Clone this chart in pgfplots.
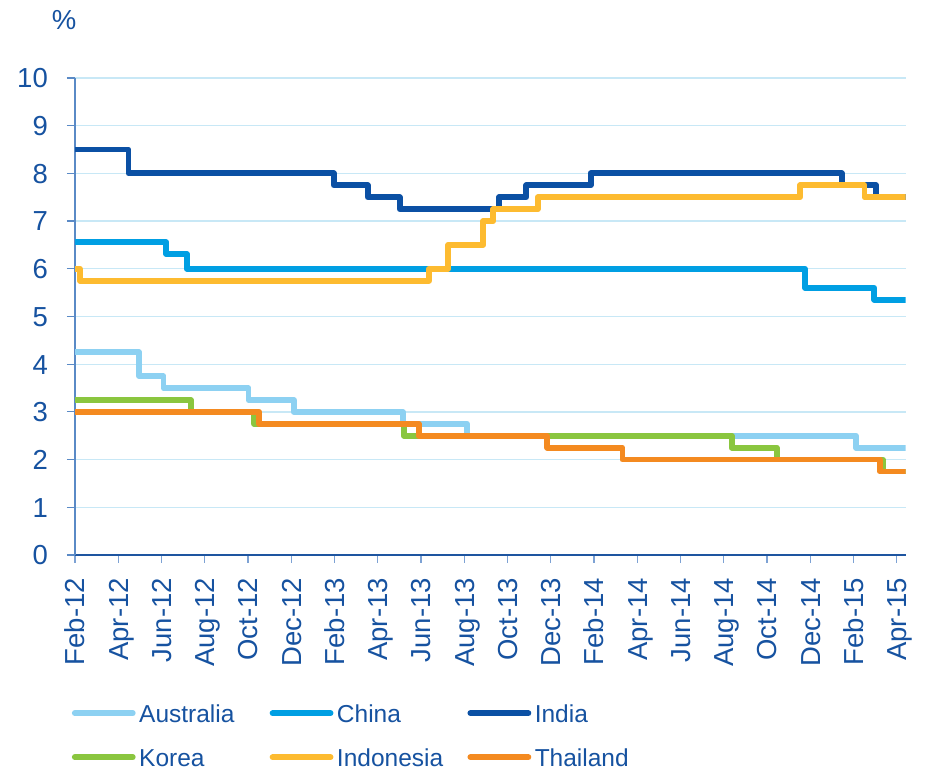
\documentclass[border=0pt]{standalone}
\usepackage{pgfplots}
\pgfplotsset{compat=1.18}
\usepackage{pgfplotstable}
\usepackage{fontspec}
\setmainfont{Liberation Sans}

\definecolor{txtblue}{RGB}{22,82,160}
\definecolor{ausblue}{RGB}{141,209,242}
\definecolor{chnblue}{RGB}{0,159,227}
\definecolor{indblue}{RGB}{11,80,164}
\definecolor{korgreen}{RGB}{138,198,63}
\definecolor{idnyellow}{RGB}{253,187,48}
\definecolor{thaorange}{RGB}{244,138,32}
\definecolor{gridblue}{RGB}{200,232,246}
\definecolor{yaxisblue}{RGB}{90,138,198}
\definecolor{xaxisblue}{RGB}{30,85,160}
\definecolor{xtickblue}{RGB}{125,162,212}

% Policy rates (%), x = months since 1 Feb 2012; each rate holds until the next row
\pgfplotstableread{
x     y
0     4.25
2.96  3.75
4.09  3.5
8.02  3.25
10.11 3.0
15.15 2.75
18.13 2.5
36.11 2.25
38.4  2.25
}\australia
\pgfplotstableread{
x     y
0     6.56
4.21  6.31
5.17  6.0
33.75 5.6
36.96 5.35
38.4  5.35
}\china
\pgfplotstableread{
x     y
0     8.5
2.47  8.0
11.96 7.75
13.53 7.5
15.01 7.25
19.6  7.5
20.87 7.75
23.84 8.0
35.45 7.75
37.04 7.5
38.4  7.5
}\india
\pgfplotstableread{
x     y
0     3.25
5.36  3.0
8.29  2.75
15.2  2.5
30.36 2.25
32.45 2.0
37.35 1.75
38.4  1.75
}\korea
\pgfplotstableread{
x     y
0     6.0
0.23  5.75
16.36 6.0
17.25 6.5
18.88 7.0
19.34 7.25
21.4  7.5
33.53 7.75
36.5  7.5
38.4  7.5
}\indonesia
\pgfplotstableread{
x     y
0     3.0
8.52  2.75
15.89 2.5
21.84 2.25
25.31 2.0
37.22 1.75
38.4  1.75
}\thailand

\begin{document}
\begin{tikzpicture}
\path[use as bounding box] (0pt,0pt) rectangle (926pt,770pt);
\begin{axis}[
  at={(75pt,215pt)}, anchor=south west,
  scale only axis, width=830.5pt, height=477pt,
  xmin=0, xmax=38.4, ymin=0, ymax=10,
  axis x line*=bottom, axis y line*=left,
  x axis line style={draw=xaxisblue, line width=1.4pt, -},
  y axis line style={draw=yaxisblue, line width=1.4pt, -},
  ytick={0,1,...,10},
  xtick={0,2,...,38},
  xticklabels={Feb-12,Apr-12,Jun-12,Aug-12,Oct-12,Dec-12,Feb-13,Apr-13,Jun-13,Aug-13,Oct-13,Dec-13,Feb-14,Apr-14,Jun-14,Aug-14,Oct-14,Dec-14,Feb-15,Apr-15},
  tick align=outside, major tick length=8pt,
  x tick style={draw=xtickblue, line width=1.2pt},
  y tick style={draw=yaxisblue, line width=1.2pt},
  ymajorgrids, grid style={draw=gridblue, line width=1.3pt},
  /pgf/number format/assume math mode=true,
  ticklabel style={font=\fontsize{27.5}{33}\selectfont, text=txtblue, inner sep=0pt,
    text height=19.7pt, text depth=0pt},
  yticklabel style={anchor=east, xshift=-19pt},
  xticklabel style={rotate=90, anchor=east, xshift=-15pt},
  every axis plot/.append style={const plot, line width=5.8pt, line join=round, line cap=round, no markers},
  legend columns=3,
  legend cell align=left,
  legend image code/.code={\draw[#1, line width=5.8pt, line cap=round] (0pt,0pt) -- (58pt,0pt);},
  legend style={draw=none, fill=none, inner sep=0pt, column sep=3.5pt, row sep=23.6pt,
    font=\fontsize{24.5}{29}\selectfont, text=txtblue,
    nodes={inner sep=0pt, text height=19pt, text depth=1.4pt},
    at={(rel axis cs:-0.004,-0.3099)}, anchor=north west},
  extra description/.code={
    \node[font=\fontsize{27.5}{33}\selectfont, text=txtblue] at (rel axis cs:-0.013,1.122) {\%};
  },
]
\addplot[ausblue]   table {\australia};
\addlegendentry{\makebox[127pt][l]{Australia}}
\addplot[chnblue]   table {\china};
\addlegendentry{\makebox[127pt][l]{China}}
\addplot[indblue]   table {\india};
\addlegendentry{India}
\addplot[korgreen]  table {\korea};
\addlegendentry{\makebox[127pt][l]{Korea}}
\addplot[idnyellow] table {\indonesia};
\addlegendentry{\makebox[127pt][l]{Indonesia}}
\addplot[thaorange] table {\thailand};
\addlegendentry{Thailand}
\end{axis}
\end{tikzpicture}
\end{document}
